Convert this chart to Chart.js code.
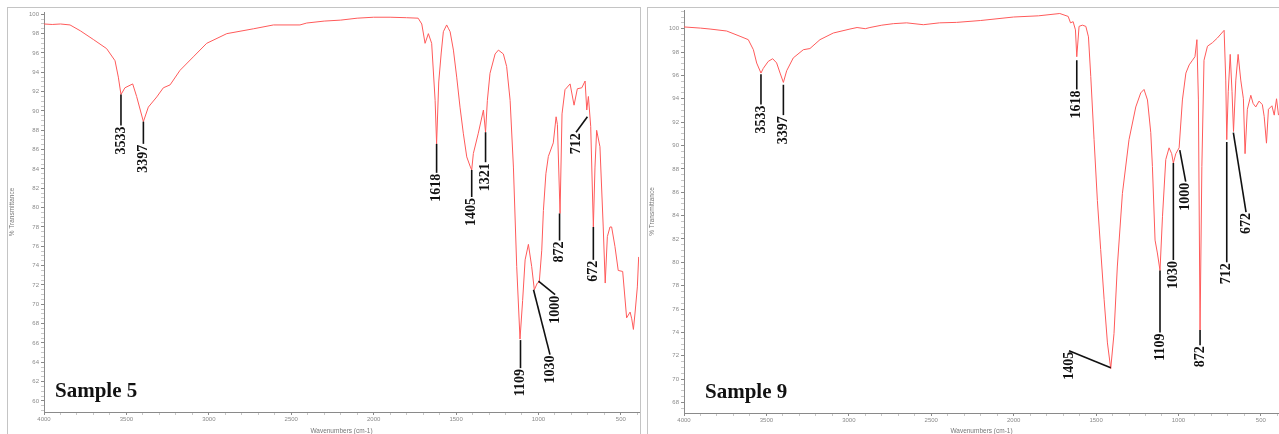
<!DOCTYPE html>
<html>
<head>
<meta charset="utf-8">
<script src="https://cdn.jsdelivr.net/npm/chart.js@4.4.1/dist/chart.umd.min.js"></script>
<style>
  html, body { margin: 0; padding: 0; background: #fff; width: 1279px; height: 434px; overflow: hidden; }
  .frame { position: absolute; border: 1px solid #c4c4c4; box-sizing: border-box; }
  .wrap { position: absolute; top: 0; width: 633px; height: 434px; }
</style>
</head>
<body>
<div class="frame" style="left:7px; top:7px; width:634px; height:440px;"></div>
<div class="frame" style="left:647px; top:7px; width:640px; height:440px;"></div>
<div class="wrap" style="left:7px;"><canvas id="s5"></canvas></div>
<div class="wrap" style="left:647px;"><canvas id="s9"></canvas></div>
<script>
// x ticks every 100, labelled every 500
const xTicks = [4000, 3900, 3800, 3700, 3600, 3500, 3400, 3300, 3200, 3100, 3000, 2900, 2800, 2700, 2600, 2500,
  2400, 2300, 2200, 2100, 2000, 1900, 1800, 1700, 1600, 1500, 1400, 1300, 1200, 1100, 1000, 900, 800, 700, 600, 500, 400];
const xLabels = [4000, 3500, 3000, 2500, 2000, 1500, 1000, 500];
const s5YLabels = [100, 98, 96, 94, 92, 90, 88, 86, 84, 82, 80, 78, 76, 74, 72, 70, 68, 66, 64, 62, 60];
const s9YLabels = [100, 98, 96, 94, 92, 90, 88, 86, 84, 82, 80, 78, 76, 74, 72, 70, 68];

// Sample 5 spectrum
const s5Wavenumber = [4000, 3950, 3900, 3842, 3780, 3701, 3620, 3569, 3549, 3533, 3509, 3462, 3438, 3397, 3367, 3316,
  3276, 3235, 3175, 3094, 3013, 2891, 2730, 2608, 2447, 2406, 2300, 2200, 2100, 2000, 1900, 1800, 1730, 1708, 1688,
  1668, 1648, 1627, 1618, 1605, 1590, 1577, 1557, 1545, 1536, 1516, 1496, 1476, 1456, 1435, 1415, 1405, 1395, 1365,
  1334, 1321, 1310, 1294, 1263, 1243, 1213, 1193, 1172, 1152, 1132, 1112, 1096, 1081, 1061, 1041, 1025, 1007, 995,
  980, 970, 955, 940, 910, 893, 885, 869, 857, 839, 808, 784, 764, 737, 717, 707, 697, 683, 667, 657, 647, 627, 607,
  595, 582, 566, 556, 536, 516, 489, 465, 444, 434, 424, 414, 400, 392];
const s5Transmittance = [99.0, 98.95, 99.0, 98.9, 98.3, 97.4, 96.45, 95.2, 93.5, 91.7, 92.4, 92.8, 91.5, 88.9, 90.4, 91.45,
  92.4, 92.7, 94.2, 95.6, 97.0, 98.0, 98.5, 98.9, 98.9, 99.1, 99.3, 99.4, 99.6, 99.7, 99.7, 99.65, 99.6, 99.0, 97.0,
  98.0, 97.0, 91.1, 86.6, 93.0, 96.0, 98.2, 98.9, 98.5, 98.2, 96.3, 93.5, 90.4, 87.7, 85.25, 84.3, 83.9, 85.6, 87.7,
  90.1, 87.8, 91.1, 93.9, 95.9, 96.3, 95.9, 94.6, 91.1, 84.2, 73.9, 66.4, 70.4, 74.6, 76.2, 73.9, 71.5, 72.2, 72.3,
  75.6, 79.7, 83.5, 85.3, 86.7, 89.4, 88.6, 79.4, 89.7, 92.2, 92.8, 90.6, 92.3, 92.4, 93.1, 90.1, 91.5, 88.4, 78.0,
  84.2, 88.0, 86.3, 78.0, 72.2, 77.0, 78.0, 78.0, 76.0, 73.5, 73.4, 68.6, 69.2, 68.5, 67.4, 69.1, 71.8, 74.9];

// Sample 9 spectrum
const s9Wavenumber = [4000, 3900, 3842, 3741, 3660, 3610, 3579, 3559, 3533, 3519, 3489, 3462, 3438, 3417, 3397, 3377,
  3337, 3276, 3236, 3175, 3094, 2993, 2950, 2900, 2872, 2800, 2730, 2649, 2548, 2450, 2346, 2200, 2000, 1850, 1720,
  1669, 1655, 1639, 1625, 1617, 1603, 1583, 1562, 1546, 1532, 1512, 1492, 1472, 1451, 1431, 1411, 1391, 1371, 1340,
  1300, 1259, 1229, 1209, 1188, 1168, 1158, 1142, 1128, 1112, 1097, 1077, 1057, 1041, 1031, 1016, 996, 976, 955, 935,
  915, 900, 888, 879, 869, 858, 845, 824, 794, 764, 723, 713, 707, 698, 686, 675, 666, 652, 638, 622, 606, 596, 582,
  561, 547, 531, 511, 491, 480, 466, 454, 433, 419, 405, 393];
const s9Transmittance = [100.15, 100.05, 99.97, 99.8, 99.35, 99.06, 98.2, 97.06, 96.2, 96.6, 97.2, 97.43, 97.07, 96.2,
  95.4, 96.4, 97.5, 98.2, 98.3, 99.06, 99.63, 99.97, 100.1, 100.0, 100.1, 100.3, 100.43, 100.5, 100.34, 100.5, 100.54,
  100.7, 101.0, 101.1, 101.3, 101.05, 100.5, 100.6, 99.9, 97.6, 100.2, 100.3, 100.2, 99.3, 95.9, 90.5, 85.3, 81.1,
  76.8, 73.1, 70.9, 73.9, 79.6, 85.9, 90.5, 93.3, 94.5, 94.8, 93.9, 91.1, 88.2, 81.9, 80.8, 79.3, 83.9, 88.8, 89.8,
  89.3, 88.5, 89.3, 89.8, 93.9, 96.2, 96.9, 97.3, 97.6, 99.06, 93.9, 74.2, 88.2, 97.3, 98.5, 98.8, 99.2, 99.86, 95.6,
  90.5, 94.6, 97.8, 94.6, 91.2, 95.6, 97.8, 95.6, 94.0, 89.3, 93.1, 94.3, 93.6, 93.3, 93.8, 93.5, 92.5, 90.2, 93.1,
  93.4, 92.6, 94.0, 92.6];

// peak labels: leader from curve point to label end, both in data units
const s5Leaders = [
  { text: "3533", from: [3533, 91.7], to: [3533, 88.5] },
  { text: "3397", from: [3397, 88.9], to: [3397, 86.6] },
  { text: "1618", from: [1618, 86.6], to: [1618, 83.6] },
  { text: "1405", from: [1405, 83.9], to: [1405, 81.1] },
  { text: "1321", from: [1321, 87.8], to: [1321, 84.7] },
  { text: "1109", from: [1109, 66.3], to: [1109, 63.4] },
  { text: "1030", from: [1030, 71.5], to: [930, 64.8] },
  { text: "1000", from: [1000, 72.4], to: [899, 71.0] },
  { text: "872", from: [872, 79.4], to: [872, 76.6] },
  { text: "712", from: [703, 89.4], to: [772, 87.8] },
  { text: "672", from: [667, 78.0], to: [667, 74.6] },
];
const s9Leaders = [
  { text: "3533", from: [3533, 96.1], to: [3533, 93.5] },
  { text: "3397", from: [3397, 95.2], to: [3397, 92.6] },
  { text: "1618", from: [1617, 97.3], to: [1617, 94.8] },
  { text: "1405", from: [1411, 70.98], to: [1664, 72.43] },
  { text: "1109", from: [1112, 79.3], to: [1112, 74.0] },
  { text: "1030", from: [1031, 88.5], to: [1031, 80.2] },
  { text: "1000", from: [992, 89.6], to: [956, 86.9] },
  { text: "872", from: [869, 74.2], to: [869, 72.9] },
  { text: "712", from: [707, 90.3], to: [707, 80.0] },
  { text: "672", from: [667, 91.1], to: [590, 84.3] },
];

const leaderPlugin = {
  id: "leaders",
  afterDatasetsDraw(chart, args, opts) {
    const ctx = chart.ctx;
    const xs = chart.scales.x, ys = chart.scales.y;
    ctx.save();
    ctx.strokeStyle = "#111";
    ctx.lineWidth = 1.6;
    ctx.fillStyle = "#111";
    ctx.font = "bold 14px 'Liberation Serif', 'Times New Roman', serif";
    for (const l of opts.items) {
      const x1 = xs.getPixelForValue(l.from[0]), y1 = ys.getPixelForValue(l.from[1]);
      const x2 = xs.getPixelForValue(l.to[0]), y2 = ys.getPixelForValue(l.to[1]);
      ctx.beginPath();
      ctx.moveTo(x1, y1);
      ctx.lineTo(x2, y2);
      ctx.stroke();
      ctx.save();
      ctx.translate(x2, y2 + 1);
      ctx.rotate(-Math.PI / 2);
      ctx.textAlign = "right";
      ctx.textBaseline = "middle";
      ctx.fillText(l.text, 0, 0);
      ctx.restore();
    }
    // sample name
    ctx.font = "bold 21px 'Liberation Serif', 'Times New Roman', serif";
    ctx.textAlign = "left";
    ctx.textBaseline = "alphabetic";
    ctx.fillText(opts.title, chart.chartArea.left + opts.titleDx, chart.chartArea.bottom - 15);
    ctx.restore();
  }
};

function makeChart(id, wn, tr, yLabels, yMin, yMax, leaders, title, pad, xHeight, titleDx) {
  const points = wn.map((w, i) => ({ x: w, y: tr[i] }));
  const yTicks = [];
  for (let v = Math.ceil(yMin * 2) / 2; v <= yMax; v += 0.5) yTicks.push(v);
  const gray = "#8a8a8a";
  return new Chart(document.getElementById(id), {
    type: "scatter",
    data: {
      datasets: [{
        data: points,
        showLine: true,
        borderColor: "rgb(255,90,90)",
        borderWidth: 1,
        pointRadius: 0,
        tension: 0,
      }],
    },
    options: {
      responsive: false,
      animation: false,
      devicePixelRatio: 1,
      layout: { padding: pad },
      plugins: {
        legend: { display: false },
        tooltip: { enabled: false },
        leaders: { items: leaders, title: title, titleDx: titleDx },
      },
      scales: {
        x: {
          type: "linear",
          reverse: true,
          min: 390,
          max: 4000,
          afterBuildTicks: (s) => { s.ticks = xTicks.map((v) => ({ value: v })); },
          afterFit: (s) => { s.height = xHeight; },
          grid: {
            drawOnChartArea: false,
            tickLength: 3,
            tickColor: (c) => (xLabels.includes(c.tick.value) ? gray : "#c8c8c8"),
          },
          border: { color: gray },
          ticks: {
            autoSkip: false,
            maxRotation: 0,
            padding: 1,
            color: gray,
            font: { family: "'Liberation Sans', Arial, sans-serif", size: 6 },
            callback: (v) => (xLabels.includes(v) ? String(v) : ""),
          },
          title: {
            display: true,
            text: "Wavenumbers (cm-1)",
            color: "#777",
            padding: 0,
            font: { family: "'Liberation Sans', Arial, sans-serif", size: 6.5, lineHeight: 1 },
          },
        },
        y: {
          min: yMin,
          max: yMax,
          afterBuildTicks: (s) => { s.ticks = yTicks.map((v) => ({ value: v })); },
          afterFit: (s) => { s.width = 37; },
          grid: {
            drawOnChartArea: false,
            tickLength: 3,
            tickColor: (c) => (yLabels.includes(c.tick.value) ? gray : "#c8c8c8"),
          },
          border: { color: gray },
          ticks: {
            autoSkip: false,
            padding: 2,
            color: gray,
            font: { family: "'Liberation Sans', Arial, sans-serif", size: 6 },
            callback: (v) => (yLabels.includes(v) ? String(v) : ""),
          },
          title: {
            display: true,
            text: "% Transmittance",
            color: "#777",
            padding: { top: 2, bottom: 0 },
            font: { family: "'Liberation Sans', Arial, sans-serif", size: 6.5, lineHeight: 1 },
          },
        },
      },
    },
    plugins: [leaderPlugin],
  });
}

for (const id of ["s5", "s9"]) {
  const c = document.getElementById(id);
  c.width = 633;
  c.height = 434;
  c.style.width = "633px";
  c.style.height = "434px";
}

makeChart("s5", s5Wavenumber, s5Transmittance, s5YLabels, 58.86, 100.24, s5Leaders, "Sample 5",
  { top: 12, right: 1, bottom: 0, left: 0 }, 22, 11);
makeChart("s9", s9Wavenumber, s9Transmittance, s9YLabels, 67.1, 101.6, s9Leaders, "Sample 9",
  { top: 10, right: 1, bottom: 0, left: 0 }, 21, 21);
</script>
</body>
</html>
